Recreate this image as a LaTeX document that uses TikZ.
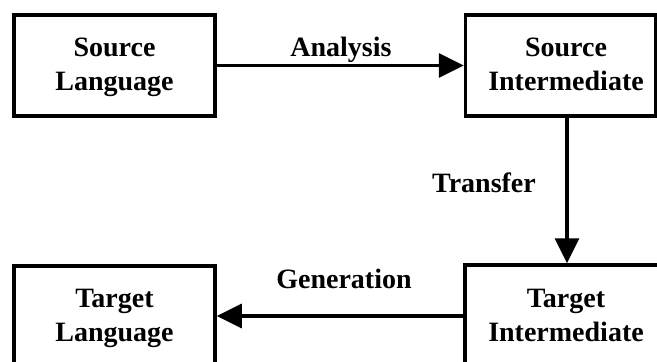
\documentclass[tikz,border=0pt]{standalone}
\usepackage{fontspec}
\setmainfont{Liberation Serif}
\usetikzlibrary{arrows.meta}
\begin{document}
\begin{tikzpicture}[x=1pt,y=-1pt,
  txt/.style={font=\bfseries\fontsize{28}{34}\selectfont},
  box/.style={draw, line width=3.5pt, rectangle, inner sep=0pt},
  boxtext/.style={inner sep=0pt, align=center, txt},
  lbl/.style={anchor=base, inner sep=0pt, txt},
  flow/.style={line width=3.5pt, -{Triangle[length=25pt,width=24pt]}}]
  % page area
  \fill[white] (0,0) rectangle (657,362);
  \useasboundingbox (0,0) rectangle (657,362);
  \clip (0,0) rectangle (657,362);

  % stage boxes
  \node[box, minimum width=201pt, minimum height=101pt] (sl) at (114.5,65.5) {};
  \node[box, minimum width=190pt, minimum height=101pt] (si) at (560.5,65.5) {};
  \node[box, minimum width=201pt, minimum height=101pt] (tl) at (114.5,316.5) {};
  \node[box, minimum width=204pt, minimum height=102pt] (ti) at (567,316) {};

  % stage names
  \node[boxtext] (sltext) at (114.5,67.1) {Source\\Language};
  \node[boxtext] (sitext) at (566,64.4) {Source\\Intermediate};
  \node[boxtext] (tltext) at (114.5,318.3) {Target\\Language};
  \node[boxtext] (titext) at (566,315) {Target\\Intermediate};

  % transitions
  \draw[flow] (sl.east) -- (si.west);
  \draw[flow] (si.south -| ti.north) -- (ti.north);
  \draw[flow] (ti.west) -- (ti.west -| tl.east);

  % transition labels
  \node[lbl] (analysis) at (341,56) {Analysis};
  \node[lbl] (transfer) at (484,192) {Transfer};
  \node[lbl] (generation) at (344,288) {Generation};
\end{tikzpicture}
\end{document}
